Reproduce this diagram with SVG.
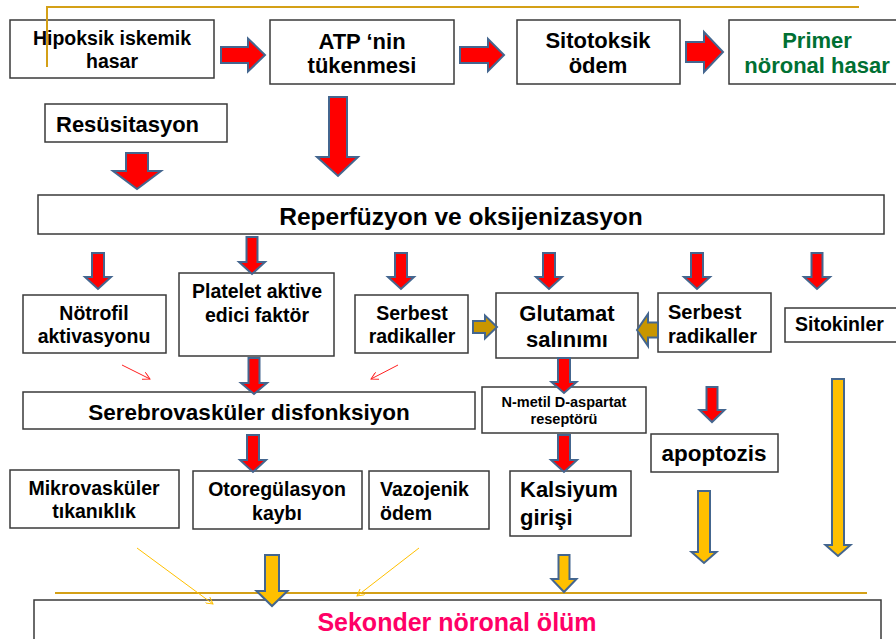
<svg xmlns="http://www.w3.org/2000/svg" width="896" height="639" viewBox="0 0 896 639">
<defs>
<style>
.box{fill:#fff;stroke:#3a3a3a;stroke-width:1.5}
.t{font-family:"Liberation Sans",Arial,sans-serif;font-weight:bold;fill:#000}
.c{text-anchor:middle}
.ar{fill:#ff0000;stroke:#44668f;stroke-width:2;stroke-linejoin:miter}
.ag{fill:#ffc000;stroke:#44668f;stroke-width:2}
.ad{fill:#c89600;stroke:#44668f;stroke-width:2}
.gl{stroke:#d4a017;stroke-width:2;fill:none}
.thr{stroke:#ff2020;stroke-width:1;fill:none}
.thg{stroke:#ffc000;stroke-width:1;fill:none}
</style>
<marker id="mr" viewBox="0 0 10 10" refX="9" refY="5" markerWidth="8" markerHeight="8" orient="auto" markerUnits="userSpaceOnUse"><path d="M0,0 L9,5 L0,10" fill="none" stroke="#ff2020" stroke-width="1.2"/></marker>
<marker id="mg" viewBox="0 0 10 10" refX="9" refY="5" markerWidth="8" markerHeight="8" orient="auto" markerUnits="userSpaceOnUse"><path d="M0,0 L9,5 L0,10" fill="none" stroke="#ffc000" stroke-width="1.2"/></marker>
</defs>
<rect width="896" height="639" fill="#fff"/>

<g id="nodes">
<g id="n-hipoksik"><rect class="box" x="10" y="20" width="204" height="58"/>
<text class="t c" x="112" y="45" font-size="19.5">Hipoksik iskemik</text>
<text class="t c" x="112" y="68" font-size="19.5">hasar</text></g>
<g id="n-atp"><rect class="box" x="270" y="20" width="184" height="64"/>
<text class="t c" x="362" y="49" font-size="22">ATP ‘nin</text>
<text class="t c" x="362" y="73" font-size="22">tükenmesi</text></g>
<g id="n-sitotoksik"><rect class="box" x="517" y="20" width="163" height="64"/>
<text class="t c" x="598" y="48" font-size="22">Sitotoksik</text>
<text class="t c" x="598" y="73" font-size="22">ödem</text></g>
<g id="n-primer"><rect class="box" x="729" y="20" width="180" height="64"/>
<text class="t c" x="817" y="48" font-size="22" style="fill:#007033">Primer</text>
<text class="t c" x="817" y="73" font-size="22" style="fill:#007033">nöronal hasar</text></g>
<g id="n-resus"><rect class="box" x="45" y="104" width="182" height="38"/>
<text class="t" x="56" y="132" font-size="22">Resüsitasyon</text></g>
<g id="n-reperf"><rect class="box" x="38" y="195" width="846" height="39"/>
<text class="t c" x="461" y="225" font-size="24.5">Reperfüzyon ve oksijenizasyon</text></g>
<g id="n-notrofil"><rect class="box" x="23" y="295" width="143" height="58"/>
<text class="t c" x="94" y="320" font-size="19.5">Nötrofil</text>
<text class="t c" x="94" y="343" font-size="19.5">aktivasyonu</text></g>
<g id="n-platelet"><rect class="box" x="179" y="273" width="155" height="83"/>
<text class="t c" x="257" y="298" font-size="19.5">Platelet aktive</text>
<text class="t c" x="257" y="322" font-size="19.5">edici faktör</text></g>
<g id="n-serbest1"><rect class="box" x="355" y="295" width="113" height="58"/>
<text class="t c" x="412" y="320" font-size="19.5">Serbest</text>
<text class="t c" x="412" y="343" font-size="19.5">radikaller</text></g>
<g id="n-glutamat"><rect class="box" x="496" y="293" width="142" height="65"/>
<text class="t c" x="567" y="321" font-size="22">Glutamat</text>
<text class="t c" x="567" y="347" font-size="22">salınımı</text></g>
<g id="n-serbest2"><rect class="box" x="658" y="293" width="113" height="59"/>
<text class="t" x="668" y="319" font-size="20">Serbest</text>
<text class="t" x="668" y="343" font-size="20">radikaller</text></g>
<g id="n-sitokinler"><rect class="box" x="785" y="308" width="120" height="34"/>
<text class="t" x="795" y="331" font-size="19.5">Sitokinler</text></g>
<g id="n-serebro"><rect class="box" x="23" y="392" width="452" height="37"/>
<text class="t c" x="249" y="420" font-size="22.5">Serebrovasküler disfonksiyon</text></g>
<g id="n-nmda"><rect class="box" x="482" y="387" width="164" height="46"/>
<text class="t c" x="564" y="407" font-size="14.5">N-metil D-aspartat</text>
<text class="t c" x="564" y="424" font-size="14.5">reseptörü</text></g>
<g id="n-apoptozis"><rect class="box" x="651" y="434" width="127" height="38"/>
<text class="t c" x="714" y="461" font-size="22.5">apoptozis</text></g>
<g id="n-mikro"><rect class="box" x="10" y="470" width="169" height="58"/>
<text class="t c" x="94" y="495" font-size="19.5">Mikrovasküler</text>
<text class="t c" x="94" y="518" font-size="19.5">tıkanıklık</text></g>
<g id="n-otoreg"><rect class="box" x="193" y="471" width="169" height="58"/>
<text class="t c" x="277" y="496" font-size="19.5">Otoregülasyon</text>
<text class="t c" x="277" y="520" font-size="19.5">kaybı</text></g>
<g id="n-vazojenik"><rect class="box" x="369" y="471" width="120" height="58"/>
<text class="t" x="380" y="496" font-size="19.5">Vazojenik</text>
<text class="t" x="380" y="520" font-size="19.5">ödem</text></g>
<g id="n-kalsiyum"><rect class="box" x="510" y="471" width="121" height="65"/>
<text class="t" x="520" y="497" font-size="22">Kalsiyum</text>
<text class="t" x="520" y="525" font-size="22">girişi</text></g>
<g id="n-sekonder"><rect class="box" x="34" y="600" width="847" height="50"/>
<text class="t c" x="457" y="631" font-size="25" style="fill:#ff0066">Sekonder nöronal ölüm</text></g>
</g>

<g id="connectors">
<!-- gold decorative lines -->
<polyline class="gl" points="47,67 47,7 859,7"/>
<line class="gl" x1="55" y1="593" x2="867" y2="593"/>
<!-- right arrows -->
<polygon class="ar" points="221,47 248,47 248,38.5 265,55 248,71.5 248,63 221,63"/>
<polygon class="ar" points="460,47 488,47 488,39 504,55 488,71 488,63 460,63"/>
<polygon class="ar" points="686,42 704,42 704,32 723,52 704,72 704,62 686,62"/>
<!-- down red arrows -->
<polygon class="ar" points="126,153 148,153 148,171 161,171 137,189 113,171 126,171"/>
<polygon class="ar" points="329,97 347,97 347,157 358,157 338,176 317,157 329,157"/>
<polygon class="ar" points="92,253 104,253 104,277 111,277 98,289 85,277 92,277"/>
<polygon class="ar" points="246.5,237 257.5,237 257.5,262 265,262 252,274 239,262 246.5,262"/>
<polygon class="ar" points="395,253 407,253 407,277 414,277 401,289 388,277 395,277"/>
<polygon class="ar" points="543,253 555,253 555,277 562,277 549,289 536,277 543,277"/>
<polygon class="ar" points="691,253 703,253 703,277 710,277 697,289 684,277 691,277"/>
<polygon class="ar" points="811.5,253 822.5,253 822.5,277 830,277 817,289 804,277 811.5,277"/>
<polygon class="ar" points="248.5,358 259.5,358 259.5,383 267,383 254,394 241,383 248.5,383"/>
<polygon class="ar" points="558,358 570,358 570,382 576.5,382 564,393 551.5,382 558,382"/>
<polygon class="ar" points="706.5,387 717.5,387 717.5,410 724.5,410 712,422 699.5,410 706.5,410"/>
<polygon class="ar" points="558,435 570,435 570,460 577,460 564,472 551,460 558,460"/>
<polygon class="ar" points="247,435 259,435 259,460 266,460 253,472 240,460 247,460"/>
<!-- gold horizontal arrows -->
<polygon class="ad" points="473,321 485,321 485,315.5 497,327 485,338.5 485,333 473,333"/>
<polygon class="ad" points="658,322.5 648,322.5 648,314 637,330 648,346 648,337.5 658,337.5"/>
<!-- gold down arrows -->
<polygon class="ag" points="832,379 844,379 844,545 850.5,545 838,556 825.5,545 832,545"/>
<polygon class="ag" points="265,555 279,555 279,591 287.5,591 272,606 256.5,591 265,591"/>
<polygon class="ag" points="558.5,555 569.5,555 569.5,579 576.5,579 564,592 551.5,579 558.5,579"/>
<polygon class="ag" points="698,491 710,491 710,552 716.5,552 704,563 691.5,552 698,552"/>
<!-- thin arrows -->
<line class="thr" x1="122" y1="365" x2="150" y2="379" marker-end="url(#mr)"/>
<line class="thr" x1="398" y1="365" x2="371" y2="379" marker-end="url(#mr)"/>
<line class="thg" x1="137" y1="548" x2="213" y2="604" marker-end="url(#mg)"/>
<line class="thg" x1="419" y1="548" x2="357" y2="596" marker-end="url(#mg)"/>
</g>
</svg>
